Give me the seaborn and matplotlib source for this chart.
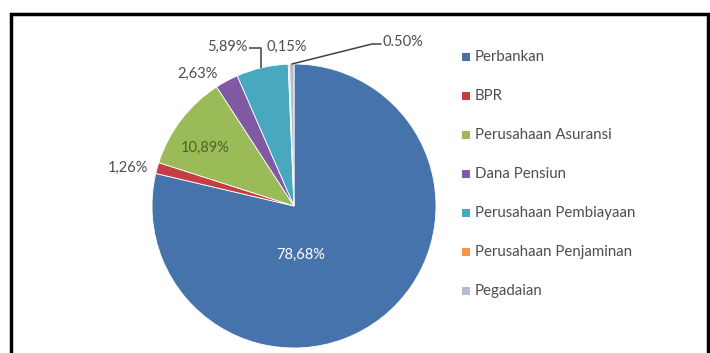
import numpy as np
import matplotlib
matplotlib.use("Agg")
import matplotlib.pyplot as plt
from matplotlib.patches import Rectangle
import seaborn as sns

# ---- data ----
categories = ["Perbankan", "BPR", "Perusahaan Asuransi", "Dana Pensiun",
              "Perusahaan Pembiayaan", "Perusahaan Penjaminan", "Pegadaian"]
shares = [78.68, 1.26, 10.89, 2.63, 5.89, 0.15, 0.50]
label_texts = ["78,68%", "1,26%", "10,89%", "2,63%", "5,89%", "0,15%", "0.50%"]
colors = ["#4673AB", "#C43F42", "#9BBB59", "#7F5AA2", "#48A8C0", "#F79646", "#B4BECB"]

sns.set_theme(style="white")
plt.rcParams["font.family"] = ["Lato", "DejaVu Sans"]

W, H = 710, 353
fig = plt.figure(figsize=(W / 100, H / 100), dpi=100)
ax = fig.add_axes([0, 0, 1, 1])

def py(y):  # pixel row -> data y
    return H - y

cx, cy, r = 294, 206, 142
wedges, _ = ax.pie(shares, colors=colors, startangle=90, counterclock=False,
                   center=(cx, py(cy)), radius=r,
                   wedgeprops=dict(edgecolor="white", linewidth=0.6))
ax.set_xlim(0, W)
ax.set_ylim(0, H)
ax.set_aspect("equal")
ax.axis("off")

# ---- data labels (pixel positions of label centres) ----
label_pos = [(301, 255), (128, 168), (205, 148), (198, 74), (227, 47), (287, 47), (403, 42)]
label_col = ["white", "#4D4D4D", "#4F6228", "#4D4D4D", "#4D4D4D", "#4D4D4D", "#4D4D4D"]
for t, (lx, ly), c in zip(label_texts, label_pos, label_col):
    ax.text(lx, py(ly), t, ha="center", va="center", fontsize=10.5, color=c)

def edge_point(w):
    th = np.deg2rad((w.theta1 + w.theta2) / 2)
    return w.center[0] + r * np.cos(th), w.center[1] + r * np.sin(th)

lc = "#404040"
# leader for Perusahaan Pembiayaan (5,89%)
ex, ey = edge_point(wedges[4])
ax.plot([249, ex - 1, ex - 1], [py(48), py(48), ey], color=lc, lw=1.1, solid_capstyle="butt")
# leader for Pegadaian (0.50%)
ex, ey = edge_point(wedges[6])
ax.plot([ex, 372, 381], [ey, py(44), py(44)], color=lc, lw=1.1)

# ---- legend ----
leg_y0, leg_dy = 57, 39
for i, (name, c) in enumerate(zip(categories, colors)):
    yy = leg_y0 + i * leg_dy
    ax.add_patch(Rectangle((462, py(yy) - 4), 8, 8, facecolor=c, edgecolor="none"))
    ax.text(475, py(yy), name, ha="left", va="center", fontsize=10.8, color="#4D4D4D")

# ---- black frame ----
ax.plot([11, 11, 708, 708], [0, py(13.5), py(13.5), 0], color="black", lw=2.5,
        solid_joinstyle="miter")

fig.savefig("out.png", dpi=100)
